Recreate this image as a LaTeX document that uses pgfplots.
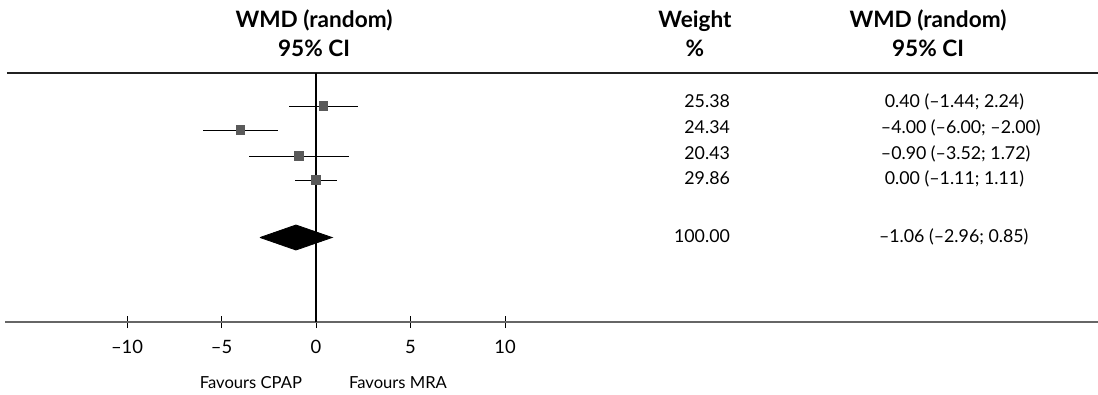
\documentclass[border=0pt]{standalone}
\usepackage{fontspec}
\setmainfont{Lato}
\usepackage{pgfplots}
\pgfplotsset{compat=1.18}
\usepackage{pgfplotstable}

\pgfplotstableread{
est lo hi y
0.40 -1.44 2.24 288
-4.00 -6.00 -2.00 264
-0.90 -3.52 1.72 238
0.00 -1.11 1.11 214
}\studies

\definecolor{sqgray}{HTML}{5A5A5A}
\definecolor{axgray}{HTML}{666666}
\newcommand\bodyfont{\fontsize{8.9}{10}\selectfont}
\newcommand\favfont{\fontsize{8.3}{10}\selectfont}
\newcommand\headfont{\bfseries\fontsize{11.3}{13}\selectfont}
\tikzset{txt/.style={inner sep=0pt, outer sep=0pt, font=\bodyfont}}

\begin{document}
\begin{tikzpicture}
\begin{axis}[
  scale only axis, width=546.5pt, height=124.5pt,
  xmin=-16.455, xmax=41.376, ymin=72, ymax=321,
  axis x line*=bottom, axis y line=none,
  x axis line style={axgray, line width=1pt, -},
  xtick={-10,-5,0,5,10}, xticklabels={–10,–5,0,5,10},
  xtick align=center, major tick length=6pt,
  tick style={black, line width=0.5pt},
  ytick=\empty,
  xticklabel style={font=\fontsize{9.2}{10}\selectfont, anchor=base, yshift=-12.8pt},
  clip=false,
]
% top rule and line of no effect
\addplot[black!87, line width=1pt] coordinates {(-16.35,321) (41.376,321)};
\addplot[black, line width=0.6pt] coordinates {(0,72) (0,321)};
% studies
\addplot[only marks, mark=square*, mark size=2.1pt,
  mark options={draw=sqgray, fill=sqgray},
  error bars/.cd, x dir=both, x explicit, error mark=none,
  error bar style={black, line width=0.5pt}]
  table[x=est, y=y,
        x error plus expr=\thisrow{hi}-\thisrow{est},
        x error minus expr=\thisrow{est}-\thisrow{lo}] {\studies};
% pooled diamond
\addplot[fill=black, draw=black] coordinates {(-2.96,156.5) (-1.06,169) (0.85,156.5) (-1.06,144) (-2.96,156.5)};

% headers
\node[anchor=base, font=\headfont] at (axis cs:-0.106,366) {WMD (random)};
\node[anchor=base, font=\headfont] at (axis cs:-0.106,337) {95\% CI};
\node[anchor=base, font=\headfont] at (axis cs:20.05,366) {Weight};
\node[anchor=base, font=\headfont] at (axis cs:20.05,337) {\%};
\node[anchor=base, font=\headfont] at (axis cs:32.38,366) {WMD (random)};
\node[anchor=base, font=\headfont] at (axis cs:32.38,337) {95\% CI};

% weights
\node[txt, anchor=base east] at (axis cs:21.9,287) {25.38};
\node[txt, anchor=base east] at (axis cs:21.9,261) {24.34};
\node[txt, anchor=base east] at (axis cs:21.9,235) {20.43};
\node[txt, anchor=base east] at (axis cs:21.9,210) {29.86};
\node[txt, anchor=base east] at (axis cs:21.9,152) {100.00};

% effect sizes
\node[txt, anchor=base west] at (axis cs:30.1,287) {0.40 (–1.44; 2.24)};
\node[txt, anchor=base west] at (axis cs:29.89,261) {–4.00 (–6.00; –2.00)};
\node[txt, anchor=base west] at (axis cs:29.89,235) {–0.90 (–3.52; 1.72)};
\node[txt, anchor=base west] at (axis cs:30.1,210) {0.00 (–1.11; 1.11)};
\node[txt, anchor=base west] at (axis cs:29.79,152) {–1.06 (–2.96; 0.85)};

% favours labels
\node[anchor=base, font=\favfont] at (axis cs:-3.44,6) {Favours CPAP};
\node[anchor=base, font=\favfont] at (axis cs:4.34,6) {Favours MRA};

\coordinate (bb1) at (axis cs:-16.72,0);
\coordinate (bb2) at (axis cs:41.376,394);
\end{axis}
\pgfresetboundingbox
\path[use as bounding box] (bb1) rectangle (bb2);
\end{tikzpicture}
\end{document}
